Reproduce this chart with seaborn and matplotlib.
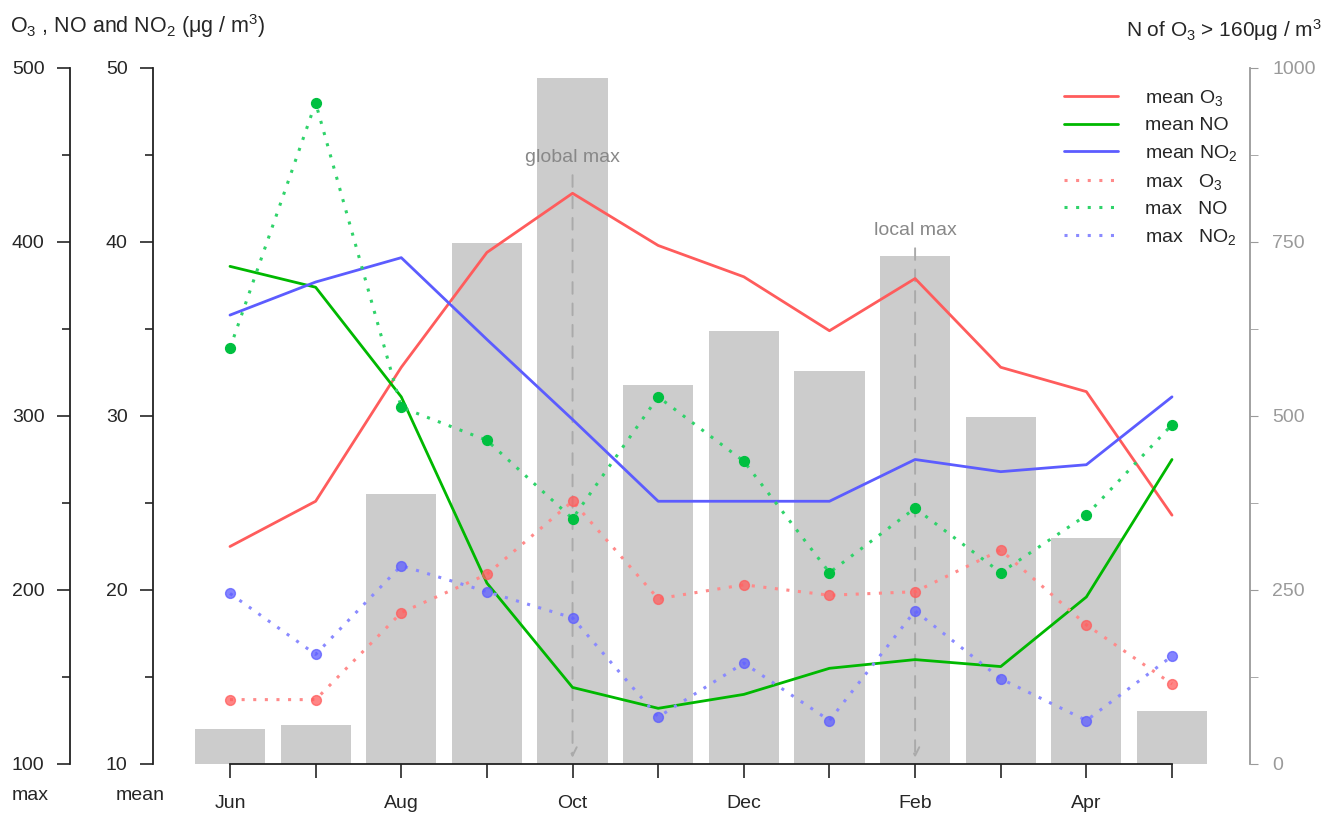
import numpy as np
import pandas as pd
import matplotlib
matplotlib.use("Agg")
import matplotlib.pyplot as plt
from matplotlib.lines import Line2D
from matplotlib.ticker import MultipleLocator
import seaborn as sns

# ---- data ----
months = ["Jun", "Jul", "Aug", "Sep", "Oct", "Nov", "Dec", "Jan", "Feb", "Mar", "Apr", "May"]
n_exceed = [50, 56, 388, 749, 986, 545, 622, 565, 730, 499, 325, 76]

mean_o3 = [22.5, 25.1, 32.8, 39.4, 42.8, 39.8, 38.0, 34.9, 37.9, 32.8, 31.4, 24.3]
mean_no = [38.6, 37.4, 31.1, 20.4, 14.4, 13.2, 14.0, 15.5, 16.0, 15.6, 19.6, 27.5]
mean_no2 = [35.8, 37.7, 39.1, 34.4, 29.8, 25.1, 25.1, 25.1, 27.5, 26.8, 27.2, 31.1]

max_o3 = [137, 137, 187, 209, 251, 195, 203, 197, 199, 223, 180, 146]
max_no = [339, 480, 305, 286, 241, 311, 274, 210, 247, 210, 243, 295]
max_no2 = [198, 163, 214, 199, 184, 127, 158, 125, 188, 149, 125, 162]

x = np.arange(len(months))

RED, GREEN, BLUE = "#ff5c5c", "#00b800", "#5c5cff"
RED_L, GREEN_L, BLUE_L = "#ff8a8a", "#2fd36a", "#8a8aff"
GRAY = "#9a9a9a"
DOT = (0, (1, 2.8))

sns.set_style("white")
plt.rcParams["font.family"] = ["Liberation Sans", "DejaVu Sans"]
plt.rcParams["mathtext.fontset"] = "custom"
plt.rcParams["mathtext.rm"] = "Liberation Sans"
plt.rcParams["mathtext.it"] = "Liberation Sans:italic"
plt.rcParams["mathtext.default"] = "regular"

W, H = 1339, 814
PT = 0.72  # points per pixel at dpi 100
fig = plt.figure(figsize=(W / 100, H / 100), dpi=100)
left_px, right_px, top_px, bot_px = 153, 1250, 68, 764
rect = [left_px / W, 1 - bot_px / H, (right_px - left_px) / W, (bot_px - top_px) / H]
xlim = (-(230 - left_px) / 85.64, 11 + (right_px - 1172) / 85.64)

# bars (right axis)
ax_bar = fig.add_axes(rect)
df_bar = pd.DataFrame({"x": x, "n": n_exceed})
sns.barplot(data=df_bar, x="x", y="n", ax=ax_bar, color="#cccccc", width=0.82,
            native_scale=True, saturation=1, edgecolor="none")
ax_bar.set_xlim(*xlim)
ax_bar.set_ylim(0, 1000)
ax_bar.yaxis.tick_right()
ax_bar.set_yticks([0, 250, 500, 750, 1000])
ax_bar.yaxis.set_minor_locator(MultipleLocator(125))
ax_bar.tick_params(axis="y", which="major", length=6, color=GRAY, labelcolor=GRAY,
                   labelsize=14, pad=10, right=True)
ax_bar.tick_params(axis="y", which="minor", length=6, color=GRAY, right=True)
for s in ["left", "top", "bottom"]:
    ax_bar.spines[s].set_visible(False)
ax_bar.spines["right"].set_color(GRAY)
ax_bar.spines["right"].set_linewidth(1.3)
ax_bar.set_xticks([])
ax_bar.set_xlabel("")
ax_bar.set_ylabel("")

# global / local max markers
for xi, ytop, ytxt, lab in [(4, 850, 871, "global max"), (8, 745, 767, "local max")]:
    ax_bar.annotate("", xy=(xi, 5), xytext=(xi, ytop),
                    arrowprops=dict(arrowstyle="->", color="#aaaaaa", lw=1.4,
                                    linestyle=(0, (6, 5)), mutation_scale=15))
    ax_bar.text(xi, ytxt, lab, ha="center", va="center", fontsize=14, color="#888888")

# mean axis
ax_mean = fig.add_axes(rect)
ax_mean.patch.set_alpha(0)
df_mean = pd.DataFrame({"x": x, "O3": mean_o3, "NO": mean_no, "NO2": mean_no2})
for col, c in [("O3", RED), ("NO", GREEN), ("NO2", BLUE)]:
    sns.lineplot(data=df_mean, x="x", y=col, ax=ax_mean, color=c, lw=2.0)
ax_mean.set_xlim(*xlim)
ax_mean.set_ylim(10, 50)
ax_mean.set_yticks([10, 20, 30, 40, 50])
ax_mean.yaxis.set_minor_locator(MultipleLocator(5))
ax_mean.tick_params(axis="y", which="major", length=13 * PT, width=1.2, labelsize=14,
                    left=True, pad=9)
ax_mean.tick_params(axis="y", which="minor", length=8 * PT, width=1.2, left=True)
ax_mean.set_xticks(x)
ax_mean.set_xticklabels([m if i % 2 == 0 else "" for i, m in enumerate(months)])
ax_mean.tick_params(axis="x", length=14 * PT, width=1.2, labelsize=14, bottom=True, pad=12)
for s in ["right", "top"]:
    ax_mean.spines[s].set_visible(False)
for s in ["left", "bottom"]:
    ax_mean.spines[s].set_color("#222222")
    ax_mean.spines[s].set_linewidth(1.3)
ax_mean.spines["bottom"].set_bounds(0, 11)
ax_mean.set_xlabel("")
ax_mean.set_ylabel("")

# max axis
ax_max = fig.add_axes(rect)
ax_max.patch.set_alpha(0)
df_max = pd.DataFrame({"x": x, "O3": max_o3, "NO": max_no, "NO2": max_no2})
for col, cl, cm in [("O3", RED_L, RED), ("NO", GREEN_L, "#00c040"), ("NO2", BLUE_L, "#5c5cff")]:
    sns.lineplot(data=df_max, x="x", y=col, ax=ax_max, color=cl, lw=2.2, linestyle=DOT)
    sns.scatterplot(data=df_max, x="x", y=col, ax=ax_max, color=cm, s=50,
                    alpha=0.75 if col != "NO" else 1.0, edgecolor=cm, linewidth=1, zorder=5)
ax_max.set_xlim(*xlim)
ax_max.set_ylim(100, 500)
ax_max.set_yticks([100, 200, 300, 400, 500])
ax_max.yaxis.set_minor_locator(MultipleLocator(50))
ax_max.tick_params(axis="y", which="major", length=13 * PT, width=1.2, labelsize=14,
                   left=True, pad=9)
ax_max.tick_params(axis="y", which="minor", length=8 * PT, width=1.2, left=True)
ax_max.set_xticks([])
for s in ["right", "top", "bottom"]:
    ax_max.spines[s].set_visible(False)
ax_max.spines["left"].set_position(("outward", 83 * PT))
ax_max.spines["left"].set_color("#222222")
ax_max.spines["left"].set_linewidth(1.3)
ax_max.set_xlabel("")
ax_max.set_ylabel("")

# legend
handles = [
    Line2D([], [], color=RED, lw=2.0),
    Line2D([], [], color=GREEN, lw=2.0),
    Line2D([], [], color=BLUE, lw=2.0),
    Line2D([], [], color=RED_L, lw=2.2, linestyle=DOT),
    Line2D([], [], color=GREEN_L, lw=2.2, linestyle=DOT),
    Line2D([], [], color=BLUE_L, lw=2.2, linestyle=DOT),
]
labels = ["mean O$_3$", "mean NO", "mean NO$_2$", "max   O$_3$", "max   NO", "max   NO$_2$"]
ax_max.legend(handles, labels, loc="upper left", bbox_to_anchor=(1064 / W, 1 - 88 / H),
              bbox_transform=fig.transFigure, frameon=False, fontsize=14,
              handlelength=2.8, handletextpad=1.35, labelspacing=0.45, borderpad=0,
              borderaxespad=0)

# axis titles
fig.text(10 / W, 1 - 26 / H, "O$_3$ , NO and NO$_2$ (μg / m$^3$)", fontsize=15.5,
         ha="left", va="center")
fig.text(1322 / W, 1 - 30 / H, "N of O$_3$ > 160μg / m$^3$", fontsize=15,
         ha="right", va="center")
fig.text(30 / W, 1 - 795 / H, "max", fontsize=14, ha="center", va="center")
fig.text(140 / W, 1 - 795 / H, "mean", fontsize=14, ha="center", va="center")

fig.savefig("out.png", dpi=100, facecolor="white")
